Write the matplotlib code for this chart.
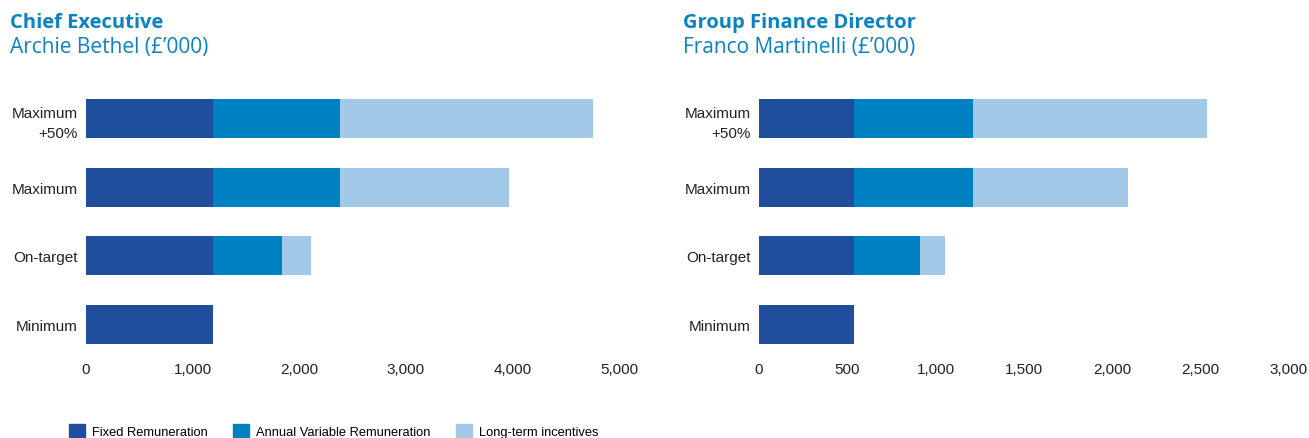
import matplotlib.pyplot as plt
from matplotlib.patches import Patch

# categorias (de cima para baixo no gráfico)
cenarios = ["Minimum", "On-target", "Maximum", "Maximum\n+50%"]

# Chief Executive (£'000)
ce_fixo = [1190, 1190, 1190, 1190]
ce_variavel = [0, 650, 1190, 1190]
ce_lti = [0, 270, 1585, 2380]

# Group Finance Director (£'000)
fd_fixo = [540, 540, 540, 540]
fd_variavel = [0, 370, 670, 670]
fd_lti = [0, 145, 880, 1325]

ce_ticks = [0, 1000, 2000, 3000, 4000, 5000]
fd_ticks = [0, 500, 1000, 1500, 2000, 2500, 3000]

cor_fixo = "#1f4e9c"
cor_var = "#0081c1"
cor_lti = "#a3c9e9"
cor_titulo = "#0a82c4"

plt.rcParams["font.family"] = ["Liberation Sans", "DejaVu Sans"]

W, H = 1309, 439
fig = plt.figure(figsize=(W / 100, H / 100), dpi=100)


def painel(x0, x1, fixo, var, lti, ticks, titulo, nome):
    ax = fig.add_axes([x0 / W, 1 - 360 / H, (x1 - x0) / W, 275 / H])
    y = range(len(cenarios))
    ax.barh(y, fixo, height=0.57, color=cor_fixo)
    ax.barh(y, var, left=fixo, height=0.57, color=cor_var)
    base = [a + b for a, b in zip(fixo, var)]
    ax.barh(y, lti, left=base, height=0.57, color=cor_lti)
    ax.set_ylim(-0.5, 3.5)
    ax.set_xlim(ticks[0], ticks[-1])
    ax.set_yticks(list(y))
    ax.set_yticklabels(cenarios, fontsize=11, color="#222222",
                       multialignment="right", linespacing=1.55)
    ax.set_xticks(ticks)
    ax.set_xticklabels([f"{t:,}" for t in ticks], fontsize=11, color="#222222")
    ax.tick_params(length=0)
    ax.tick_params(axis="x", pad=2)
    ax.tick_params(axis="y", pad=6)
    for s in ax.spines.values():
        s.set_visible(False)
    fig.text((x0 - 76) / W, 1 - 23 / H, titulo, fontsize=14.5, fontweight="bold",
             color=cor_titulo, va="center", family=["Open Sans", "DejaVu Sans"])
    fig.text((x0 - 76) / W, 1 - 47 / H, nome, fontsize=15,
             color=cor_titulo, va="center", family=["Open Sans", "DejaVu Sans"])
    return ax


painel(86, 619, ce_fixo, ce_variavel, ce_lti, ce_ticks,
       "Chief Executive", "Archie Bethel (£\u2019000)")
painel(759, 1289, fd_fixo, fd_variavel, fd_lti, fd_ticks,
       "Group Finance Director", "Franco Martinelli (£\u2019000)")

legenda = [Patch(color=cor_fixo, label="Fixed Remuneration"),
           Patch(color=cor_var, label="Annual Variable Remuneration"),
           Patch(color=cor_lti, label="Long-term incentives")]
fig.legend(handles=legenda, loc="center left", bbox_to_anchor=(69 / W, 7 / H),
           ncol=3, frameon=False, fontsize=9.3, handlelength=1.2, handleheight=1.2,
           handletextpad=0.6, columnspacing=1.95, borderpad=0, borderaxespad=0)

fig.savefig("out.png", dpi=100)
